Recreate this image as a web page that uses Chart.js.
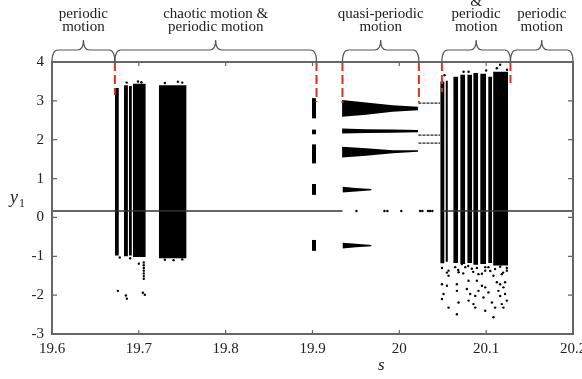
<!DOCTYPE html>
<html>
<head>
<meta charset="utf-8">
<script src="https://cdn.jsdelivr.net/npm/chart.js@4.4.1/dist/chart.umd.min.js"></script>
<style>
  html, body { margin: 0; padding: 0; background: #fff; }
</style>
</head>
<body>
<canvas id="myChart" width="582" height="379"></canvas>
<script>
// axis ranges
const sMin = 19.6, sMax = 20.2;
const yMin = -3, yMax = 4;

// regions marked with braces above the plot
const braceS = [[19.6, 19.6724], [19.6724, 19.9046], [19.9345, 20.0225], [20.049, 20.128], [20.128, 20.2]];
const regionLabels = [
  ['periodic', 'motion'],
  ['chaotic motion &', 'periodic motion'],
  ['quasi-periodic', 'motion'],
  ['chaotic motion', '&', 'periodic', 'motion'],
  ['periodic', 'motion']
];

// red dashed boundaries (s, lower end of dash)
const boundaryS = [19.6724, 19.9046, 19.9345, 20.0225, 20.049, 20.128];
const boundaryEnd = [3.15, 2.97, 2.95, 2.95, 3.23, 3.46];

// fixed point branch
const fixedS = [[19.6, 19.9345], [20.049, 20.2]];
const fixedY = 0.165;

// chaotic stripes: s range, top, bottom
const stripeS = [
  [19.6724, 19.6770], [19.6828, 19.6874], [19.6885, 19.6920], [19.6931, 19.7080], [19.7230, 19.7550],
  [20.0471, 20.0521], [20.0532, 20.0559], [20.0621, 20.0678], [20.0701, 20.0759], [20.0782, 20.0839],
  [20.0851, 20.0908], [20.0931, 20.1000], [20.1023, 20.1069], [20.1080, 20.1253]
];
const stripeTop = [3.33, 3.40, 3.38, 3.44, 3.40, 3.50, 3.52, 3.62, 3.67, 3.67, 3.72, 3.70, 3.62, 3.75];
const stripeBottom = [-0.98, -1.00, -0.98, -1.02, -1.05, -1.18, -1.14, -1.17, -1.20, -1.17, -1.22, -1.20, -1.17, -1.24];

// periodic window near s = 19.9
const colS = [19.8994, 19.9040];
const colTop = [3.07, 2.26, 1.88, 0.86, -0.58];
const colBottom = [2.55, 2.14, 1.39, 0.58, -0.86];

// quasi-periodic bands
const qpS = [19.9341, 19.9617, 19.9923, 20.0215];
const qpTop1 = [3.02, 2.96, 2.89, 2.85];
const qpBot1 = [2.59, 2.64, 2.72, 2.76];
const qpTop2 = [2.29, 2.27, 2.26, 2.25];
const qpBot2 = [2.16, 2.17, 2.18, 2.19];
const qpTop3 = [1.82, 1.78, 1.73, 1.73];
const qpBot3 = [1.54, 1.59, 1.65, 1.69];
const qpShortS = [19.9345, 19.9500, 19.9680];
const qpTop4 = [0.79, 0.76, 0.73];
const qpBot4 = [0.64, 0.67, 0.70];
const qpTop5 = [-0.65, -0.68, -0.71];
const qpBot5 = [-0.80, -0.77, -0.74];

// thin periodic lines before the second chaotic window
const shortS = [20.022, 20.047];
const shortY = [2.94, 2.12, 1.91];

// scattered points
const dotS = [
  19.6759, 19.6851, 19.6862, 19.7046, 19.7069, 19.7057, 19.7057, 19.7057, 19.7057, 19.7057, 19.7057, 19.7057, 19.7000,
  19.6780, 19.6900, 19.7300, 19.7400, 19.7500, 19.6860, 19.6990, 19.7030, 19.7300, 19.7450, 19.7500,
  19.9506, 19.9828, 19.9862, 20.0023, 20.0240, 20.0265, 20.0330, 20.0355, 20.0380,
  20.0491, 20.0567, 20.0509, 20.0491, 20.0548, 20.0663, 20.0663, 20.0682, 20.0663, 20.0759, 20.0797, 20.0778,
  20.0816, 20.0797, 20.0854, 20.0874, 20.0911, 20.0951, 20.0969, 20.0989, 20.1026, 20.1066, 20.1084, 20.1123,
  20.1141, 20.1161, 20.1199, 20.1218, 20.1238, 20.1180, 20.1161, 20.1103, 20.1199, 20.0874, 20.0989, 20.0893,
  20.1218, 20.0567, 20.0567, 20.0682, 20.0721, 20.0835, 20.0911, 20.0989, 20.1084, 20.1180, 20.1238, 20.1026,
  20.1161, 20.1123, 20.0797, 20.0740, 20.0520, 20.1000, 20.1240,
  20.0491, 20.0548, 20.0643, 20.0678, 20.0736, 20.0793, 20.0851, 20.0893, 20.0951, 20.0989, 20.1047, 20.1103,
  20.1161, 20.1195, 20.1238
];
const dotY = [
  -1.89, -2.01, -2.09, -1.94, -1.99, -1.16, -1.23, -1.30, -1.37, -1.44, -1.51, -1.58, -1.19,
  -1.03, -1.05, -1.09, -1.10, -1.08, 3.47, 3.50, 3.48, 3.46, 3.49, 3.47,
  0.165, 0.165, 0.165, 0.165, 0.165, 0.165, 0.165, 0.165, 0.165,
  -2.10, -2.32, -1.97, -1.72, -1.76, -1.72, -1.89, -2.19, -2.49, -1.28, -1.63, -1.84,
  -1.97, -2.14, -2.23, -2.32, -1.89, -1.76, -2.06, -2.40, -1.93, -2.19, -2.57, -1.67,
  -1.89, -2.02, -1.80, -1.97, -2.14, -2.23, -1.72, -2.32, -2.32, -2.02, -1.80, -1.63,
  -1.67, -1.37, -1.50, -1.41, -1.20, -1.32, -1.46, -1.37, -1.50, -1.46, -1.37, -1.28,
  3.93, 3.84, 3.75, 3.75, 3.66, 3.78, 3.80,
  -1.30, -1.42, -1.28, -1.35, -1.44, -1.25, -1.40, -1.30, -1.45, -1.28, -1.38, -1.33,
  -1.27, -1.42, -1.30
];

const datasets = [];
const RED = '#d9302c';

boundaryS.forEach((s, i) => {
  datasets.push({
    data: [{ x: s, y: yMax }, { x: s, y: boundaryEnd[i] }],
    borderColor: RED, borderWidth: 2, borderDash: [9, 4], order: 0
  });
});

function band(xs, hi, lo) {
  datasets.push({
    data: xs.map((s, i) => ({ x: s, y: hi[i] })),
    borderColor: 'rgba(0,0,0,0)', borderWidth: 1, fill: false, order: 2
  });
  datasets.push({
    data: xs.map((s, i) => ({ x: s, y: lo[i] })),
    borderColor: 'rgba(0,0,0,0)', borderWidth: 1, fill: '-1', backgroundColor: '#000', order: 2
  });
}

stripeS.forEach((r, i) => band(r, [stripeTop[i], stripeTop[i]], [stripeBottom[i], stripeBottom[i]]));
colTop.forEach((t, i) => band(colS, [t, t], [colBottom[i], colBottom[i]]));
band(qpS, qpTop1, qpBot1);
band(qpS, qpTop2, qpBot2);
band(qpS, qpTop3, qpBot3);
band(qpShortS, qpTop4, qpBot4);
band(qpShortS, qpTop5, qpBot5);

shortY.forEach(v => {
  datasets.push({
    data: shortS.map(s => ({ x: s, y: v })),
    borderColor: '#222', borderWidth: 1.2, borderDash: [3, 1], order: 1
  });
});

fixedS.forEach(r => {
  datasets.push({
    data: r.map(s => ({ x: s, y: fixedY })),
    borderColor: '#333', borderWidth: 1.5, order: 1
  });
});

datasets.push({
  data: dotS.map((s, i) => ({ x: s, y: dotY[i] })),
  showLine: false, pointRadius: 1.2, pointBorderWidth: 0,
  pointBackgroundColor: '#000', order: 1
});

function brace(ctx, x0, x1, yBase, yMid, yTip) {
  const m = (x0 + x1) / 2, r = 6;
  ctx.beginPath();
  ctx.moveTo(x0, yBase);
  ctx.quadraticCurveTo(x0, yMid, x0 + r, yMid);
  ctx.lineTo(m - r, yMid);
  ctx.quadraticCurveTo(m, yMid, m, yTip);
  ctx.quadraticCurveTo(m, yMid, m + r, yMid);
  ctx.lineTo(x1 - r, yMid);
  ctx.quadraticCurveTo(x1, yMid, x1, yBase);
  ctx.stroke();
}

const decor = {
  id: 'decor',
  afterDatasetsDraw(chart) {
    const { ctx, chartArea: a, scales: { x, y } } = chart;
    ctx.save();
    // frame
    ctx.strokeStyle = '#666';
    ctx.lineWidth = 2;
    ctx.strokeRect(a.left, a.top, a.right - a.left, a.bottom - a.top);
    // inward ticks
    ctx.lineWidth = 1.2;
    ctx.beginPath();
    x.ticks.forEach(t => {
      const px = x.getPixelForValue(t.value);
      ctx.moveTo(px, a.bottom); ctx.lineTo(px, a.bottom - 4);
      ctx.moveTo(px, a.top); ctx.lineTo(px, a.top + 4);
    });
    y.ticks.forEach(t => {
      const py = y.getPixelForValue(t.value);
      ctx.moveTo(a.left, py); ctx.lineTo(a.left + 5, py);
      ctx.moveTo(a.right, py); ctx.lineTo(a.right - 5, py);
    });
    ctx.stroke();
    // braces and region labels
    ctx.strokeStyle = '#555';
    ctx.lineWidth = 1.2;
    ctx.fillStyle = '#222';
    ctx.font = '15px "Liberation Serif", "Times New Roman", serif';
    ctx.textAlign = 'center';
    ctx.textBaseline = 'alphabetic';
    braceS.forEach((r, i) => {
      const x0 = x.getPixelForValue(r[0]), x1 = x.getPixelForValue(r[1]);
      brace(ctx, x0, x1, a.top, 50, 40);
      const lines = regionLabels[i];
      lines.forEach((txt, j) => {
        const base = 31 - (lines.length - 1 - j) * 12.7;
        ctx.fillText(txt, (x0 + x1) / 2, base);
      });
    });
    // axis titles
    ctx.textAlign = 'left';
    ctx.font = 'italic 18px "Liberation Serif", serif';
    ctx.fillText('y', 10, 203);
    ctx.font = '12px "Liberation Serif", serif';
    ctx.fillText('1', 19, 207);
    ctx.font = 'italic 17px "Liberation Serif", serif';
    ctx.fillText('s', 378, 370);
    ctx.restore();
  }
};

new Chart(document.getElementById('myChart'), {
  type: 'line',
  data: { datasets },
  options: {
    responsive: false,
    animation: false,
    layout: { padding: { left: 0, right: 9, top: 62, bottom: 0 } },
    elements: { point: { radius: 0 }, line: { tension: 0 } },
    plugins: { legend: { display: false }, tooltip: { enabled: false } },
    scales: {
      x: {
        type: 'linear', min: sMin, max: sMax,
        grid: { display: false, drawTicks: false },
        border: { display: false },
        ticks: {
          stepSize: 0.1, padding: 6, color: '#222', maxRotation: 0,
          font: { family: '"Liberation Serif", serif', size: 15 },
          callback: v => String(Number(v.toFixed(2)))
        },
        afterFit: s => { s.height = 45; s.paddingLeft = 0; s.paddingRight = 0; }
      },
      y: {
        min: yMin, max: yMax,
        grid: { display: false, drawTicks: false },
        border: { display: false },
        ticks: {
          stepSize: 1, padding: 8, color: '#222',
          font: { family: '"Liberation Serif", serif', size: 15 }
        },
        afterFit: s => { s.width = 52; s.paddingTop = 0; s.paddingBottom = 0; }
      }
    }
  },
  plugins: [decor]
});
</script>
</body>
</html>
